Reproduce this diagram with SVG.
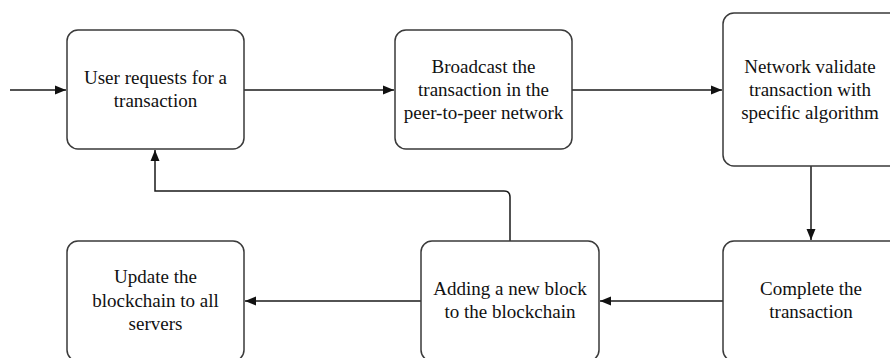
<svg xmlns="http://www.w3.org/2000/svg" width="890" height="358" viewBox="0 0 890 358">
<style>
.box{fill:#fff;stroke:#3a3a3a;stroke-width:1.5}
.lbl{font-size:19px;fill:#111;text-anchor:middle}
.con{fill:none;stroke:#1a1a1a;stroke-width:1.5}
</style>
<defs>
<marker id="ah" markerUnits="userSpaceOnUse" markerWidth="12" markerHeight="10" refX="11" refY="5" orient="auto">
<path d="M0,0.5 L11,5 L0,9.5 z" fill="#111"/>
</marker>
</defs>
<rect width="890" height="358" fill="#fff"/>
<g id="connectors">
<path class="con" d="M10,90 H66" marker-end="url(#ah)"/>
<path class="con" d="M244,90 H394" marker-end="url(#ah)"/>
<path class="con" d="M572,90 H722" marker-end="url(#ah)"/>
<path class="con" d="M811,166 V240" marker-end="url(#ah)"/>
<path class="con" d="M723,301 H600" marker-end="url(#ah)"/>
<path class="con" d="M421,301 H245" marker-end="url(#ah)"/>
<path class="con" d="M510,241 V197 Q510,191 504,191 H155 V150" marker-end="url(#ah)"/>
</g>
<g font-family="Liberation Serif, serif">
<g id="n1">
<rect class="box" x="67" y="30" width="177" height="119" rx="11"/>
<text class="lbl" x="155.5" y="84">User requests for a</text>
<text class="lbl" x="155.5" y="107">transaction</text>
</g>
<g id="n2">
<rect class="box" x="395" y="30" width="177" height="119" rx="11"/>
<text class="lbl" x="483.5" y="72.5">Broadcast the</text>
<text class="lbl" x="483.5" y="95.5">transaction in the</text>
<text class="lbl" x="483.5" y="118.5">peer-to-peer network</text>
</g>
<g id="n3">
<rect class="box" x="723" y="13" width="177" height="153" rx="11"/>
<text class="lbl" x="810" y="72.5">Network validate</text>
<text class="lbl" x="810" y="95.5">transaction with</text>
<text class="lbl" x="810" y="118.5">specific algorithm</text>
</g>
<g id="n4">
<rect class="box" x="723" y="241" width="177" height="120" rx="11"/>
<text class="lbl" x="811" y="295">Complete the</text>
<text class="lbl" x="811" y="318">transaction</text>
</g>
<g id="n5">
<rect class="box" x="421" y="241" width="178" height="120" rx="11"/>
<text class="lbl" x="510" y="295">Adding a new block</text>
<text class="lbl" x="510" y="318">to the blockchain</text>
</g>
<g id="n6">
<rect class="box" x="67" y="241" width="177" height="120" rx="11"/>
<text class="lbl" x="155.5" y="283">Update the</text>
<text class="lbl" x="155.5" y="306.5">blockchain to all</text>
<text class="lbl" x="155.5" y="330">servers</text>
</g>
</g>
</svg>
